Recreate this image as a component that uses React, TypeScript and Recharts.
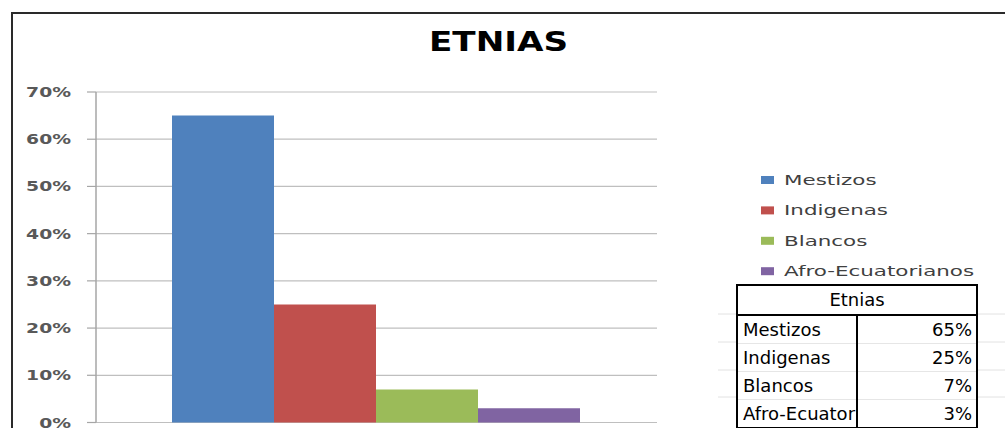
import React from 'react';
import { BarChart, Bar, XAxis, YAxis, CartesianGrid, Legend } from 'recharts';

const chartTitle = 'ETNIAS';
const tableTitle = 'Etnias';
const categoryName = 'Etnias';
const seriesNames = ['Mestizos', 'Indigenas', 'Blancos', 'Afro-Ecuatorianos'];
const seriesKeys = ['Mestizos', 'Indigenas', 'Blancos', 'Afro'];
const seriesValues = [0.65, 0.25, 0.07, 0.03];
const yTicks = [0, 0.1, 0.2, 0.3, 0.4, 0.5, 0.6, 0.7];
const seriesColors = ['#4F81BD', '#C0504D', '#9BBB59', '#8064A2'];

const data = [
  seriesKeys.reduce((row: any, k, i) => {
    row[k] = seriesValues[i];
    return row;
  }, { name: categoryName } as any),
];

const pct = (v: number) => `${Math.round(v * 100)}%`;

const YTick = (props: any) => {
  const { x, y, payload } = props;
  return (
    <g transform={`translate(${x},${y})`}>
      <text
        transform="scale(1.34,1)"
        textAnchor="end"
        dy="0.36em"
        fontFamily="DejaVu Sans"
        fontWeight="bold"
        fontSize={14}
        fill="#595959"
      >
        {pct(payload.value)}
      </text>
    </g>
  );
};

const LegendContent = (props: any) => {
  const payload = [...(props.payload || [])].sort(
    (a: any, b: any) => seriesNames.indexOf(a.value) - seriesNames.indexOf(b.value)
  );
  return (
    <svg width={245} height={125} style={{ display: 'block' }}>
      {payload.map((p: any, i: number) => {
        const cy = 20 + i * 30.4;
        return (
          <g key={i}>
            <rect x={1} y={cy - 4} width={13} height={8} fill={p.color} />
            <g transform={`translate(24,${cy})`}>
              <text
                transform="scale(1.53,1)"
                dy="0.36em"
                fontFamily="DejaVu Sans"
                fontSize={14}
                fill="#404040"
              >
                {p.value}
              </text>
            </g>
          </g>
        );
      })}
    </svg>
  );
};

const cellFont: React.CSSProperties = {
  fontFamily: 'DejaVu Sans',
  fontSize: 18,
  color: '#000',
  height: 27,
  lineHeight: '27px',
  padding: 0,
  whiteSpace: 'nowrap',
  overflow: 'hidden',
};

export default function App() {
  return (
    <div style={{ position: 'absolute', left: 0, top: 0, width: 1005, height: 428, background: '#fff', overflow: 'hidden' }}>
      <BarChart
        width={1005}
        height={428}
        data={data}
        margin={{ top: 92, right: 348, bottom: 5.5, left: 0 }}
        barCategoryGap={76}
        barGap={0}
      >
        <CartesianGrid horizontal vertical={false} stroke="#BFBFBF" strokeWidth={1.2} />
        <XAxis dataKey="name" hide />
        <YAxis
          width={96}
          domain={[0, 0.7]}
          ticks={yTicks}
          tick={<YTick />}
          tickSize={9}
          tickMargin={16}
          axisLine={{ stroke: '#A6A6A6', strokeWidth: 1.5 }}
          tickLine={{ stroke: '#A6A6A6', strokeWidth: 1.2 }}
          interval={0}
        />
        <Legend
          layout="horizontal"
          align="center"
          verticalAlign="middle"
          content={<LegendContent />}
          wrapperStyle={{ position: 'absolute', left: 760, top: 160, width: 245, height: 125 }}
        />
        {seriesKeys.map((k, i) => (
          <Bar key={k} dataKey={k} name={seriesNames[i]} fill={seriesColors[i]} isAnimationActive={false} />
        ))}
      </BarChart>

      <svg width={1005} height={428} style={{ position: 'absolute', left: 0, top: 0, pointerEvents: 'none' }}>
        <line x1={12} y1={13} x2={1005} y2={13} stroke="#2a2a2a" strokeWidth={2} />
        <line x1={12} y1={12} x2={12} y2={428} stroke="#2a2a2a" strokeWidth={2} />
        <text
          x={498.5}
          y={51}
          textAnchor="middle"
          fontFamily="DejaVu Sans"
          fontWeight="bold"
          fontSize={26}
          fill="#000"
          textLength={139}
          lengthAdjust="spacingAndGlyphs"
        >
          {chartTitle}
        </text>
        {[314, 342, 370, 397].map((y) => (
          <g key={y}>
            <line x1={718} y1={y} x2={736} y2={y} stroke="#E2E2E2" strokeWidth={1} />
            <line x1={978} y1={y} x2={1005} y2={y} stroke="#E2E2E2" strokeWidth={1} />
          </g>
        ))}
      </svg>

      <table
        style={{
          position: 'absolute',
          left: 736,
          top: 284,
          width: 242,
          borderCollapse: 'collapse',
          tableLayout: 'fixed',
          border: '2px solid #000',
        }}
      >
        <tbody>
          <tr>
            <td colSpan={2} style={{ ...cellFont, height: 28, lineHeight: '28px', textAlign: 'center', borderBottom: '2px solid #000' }}>
              {tableTitle}
            </td>
          </tr>
          {seriesNames.map((n, i) => (
            <tr key={n}>
              <td
                style={{
                  ...cellFont,
                  width: 119,
                  paddingLeft: 5,
                  textAlign: 'left',
                  borderRight: '2px solid #000',
                  borderBottom: i < seriesNames.length - 1 ? '1px solid #E6E6E6' : 'none',
                  textOverflow: 'clip',
                  maxWidth: 119,
                }}
              >
                {n}
              </td>
              <td
                style={{
                  ...cellFont,
                  paddingRight: 4,
                  textAlign: 'right',
                  borderBottom: i < seriesNames.length - 1 ? '1px solid #E6E6E6' : 'none',
                }}
              >
                {pct(seriesValues[i])}
              </td>
            </tr>
          ))}
        </tbody>
      </table>
    </div>
  );
}
